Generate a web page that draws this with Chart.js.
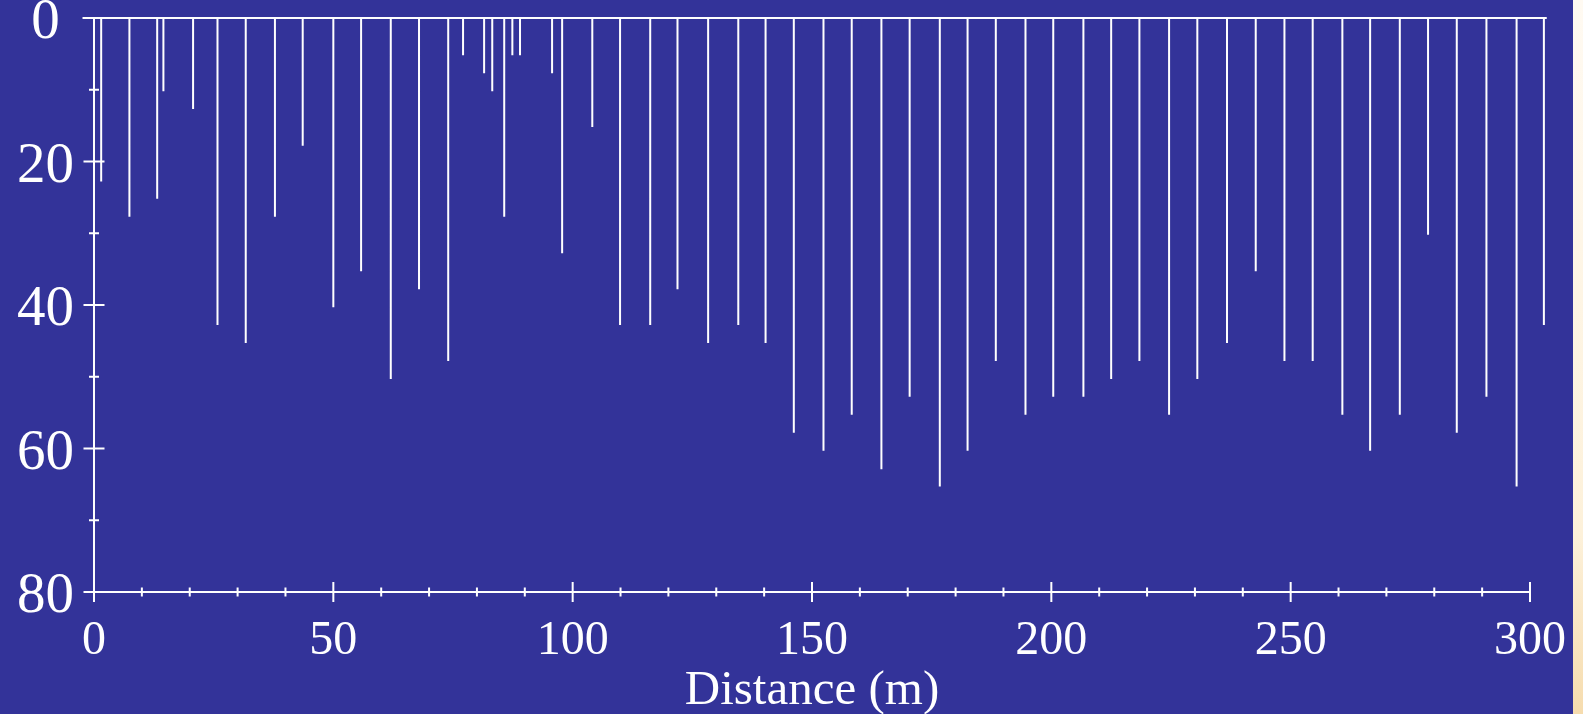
<!DOCTYPE html>
<html>
<head>
<meta charset="utf-8">
<script src="https://cdn.jsdelivr.net/npm/chart.js@4"></script>
<style>
html,body{margin:0;padding:0;background:#333399;overflow:hidden;width:1583px;height:714px;}
#strip{position:absolute;left:1573px;top:0;width:10px;height:714px;background:linear-gradient(#fffaf2,#fdf1da 75%,#f6dcae);}
canvas{position:absolute;left:0;top:0;}
</style>
</head>
<body>
<div id="strip"></div>
<canvas id="c" width="1583" height="714"></canvas>
<script>
// Distance along the profile (m)
const distances = [1.5, 7.4, 13.2, 14.5, 20.7, 25.8, 31.7, 37.8, 43.6, 50.0,
  55.8, 62.0, 67.9, 74.0, 77.1, 81.5, 83.2, 85.7, 87.4, 89.0,
  95.7, 97.8, 104.1, 109.9, 116.2, 121.9, 128.3, 134.6, 140.3, 146.2,
  152.4, 158.3, 164.5, 170.4, 176.7, 182.5, 188.4, 194.6, 200.4, 206.7,
  212.5, 218.4, 224.6, 230.5, 236.7, 242.7, 248.7, 254.6, 260.8, 266.6,
  272.8, 278.7, 284.7, 290.9, 297.2, 302.9];
// Depth of each sounding
const depths = [22.8, 27.7, 25.2, 10.2, 12.7, 42.8, 45.3, 27.7, 17.8, 40.3,
  35.3, 50.3, 37.8, 47.8, 5.2, 7.7, 10.2, 27.7, 5.2, 5.2,
  7.7, 32.8, 15.2, 42.8, 42.8, 37.8, 45.3, 42.8, 45.3, 57.8,
  60.3, 55.3, 62.9, 52.8, 65.3, 60.3, 47.8, 55.3, 52.8, 52.8,
  50.3, 47.8, 55.3, 50.3, 45.3, 35.3, 47.8, 47.8, 55.3, 60.3,
  55.3, 30.2, 57.8, 52.8, 65.3, 42.8];
const surfaceRange = [-2.4, 303.5];
const xTickLabels = ['0', '50', '100', '150', '200', '250', '300'];
const yTickLabels = ['0', '20', '40', '60', '80'];

// stems built in reverse order so every stem (including ones past 300) is drawn
const stems = [];
for (let i = distances.length - 1; i >= 0; i--) {
  stems.push({x: distances[i], y: 0}, {x: distances[i], y: depths[i]}, {x: distances[i], y: null});
}
const surface = surfaceRange.map(v => ({x: v, y: 0}));

const FONT = 'Liberation Serif, Times New Roman, serif';

const axisPlugin = {
  id: 'axesTicks',
  afterDatasetsDraw(chart) {
    const {ctx, chartArea: a, scales: {x, y}} = chart;
    ctx.save();
    ctx.strokeStyle = '#ffffff';
    ctx.lineWidth = 2;
    ctx.beginPath();
    ctx.moveTo(a.left, a.top); ctx.lineTo(a.left, a.bottom);
    ctx.moveTo(a.left, a.bottom); ctx.lineTo(a.right, a.bottom);
    y.ticks.forEach(t => {
      const py = y.getPixelForValue(t.value);
      const h = yTickLabels.includes(String(t.value)) ? 10.5 : 5;
      ctx.moveTo(a.left - h, py); ctx.lineTo(a.left + h, py);
    });
    x.ticks.forEach(t => {
      const px = x.getPixelForValue(t.value);
      const h = xTickLabels.includes(String(t.value)) ? 10 : 4.5;
      ctx.moveTo(px, a.bottom - h); ctx.lineTo(px, a.bottom + h);
    });
    ctx.stroke();
    ctx.restore();
  }
};

new Chart(document.getElementById('c'), {
  type: 'scatter',
  data: {
    datasets: [
      {data: surface, showLine: true, borderColor: '#ffffff', borderWidth: 2, pointRadius: 0, clip: false},
      {data: stems, showLine: true, spanGaps: false, borderColor: '#ffffff', borderWidth: 2, pointRadius: 0, clip: false}
    ]
  },
  options: {
    responsive: false,
    animation: false,
    layout: {padding: {top: 18, right: 53, bottom: 0, left: 0}},
    plugins: {legend: {display: false}, tooltip: {enabled: false}},
    scales: {
      x: {
        type: 'linear', position: 'bottom', min: 0, max: 300,
        grid: {display: false, drawTicks: false},
        border: {display: false},
        ticks: {
          stepSize: 10, autoSkip: false, maxRotation: 0, minRotation: 0,
          color: '#ffffff', padding: 21,
          font: {family: FONT, size: 48, lineHeight: 1.2},
          callback: v => xTickLabels.includes(String(v)) ? String(v) : ''
        },
        title: {display: true, text: 'Distance (m)', color: '#ffffff', padding: 0,
          font: {family: FONT, size: 49, lineHeight: 0.95}},
        afterFit(s) { s.height = 122; s.paddingLeft = 0; s.paddingRight = 0; }
      },
      y: {
        type: 'linear', reverse: true, min: 0, max: 80,
        grid: {display: false, drawTicks: false},
        border: {display: false},
        ticks: {
          stepSize: 10, autoSkip: false, crossAlign: 'center',
          color: '#ffffff', padding: 20,
          font: {family: FONT, size: 57, lineHeight: 0.18},
          callback: v => yTickLabels.includes(String(v)) ? ['', String(v)] : ''
        },
        afterFit(s) { s.width = 94; s.paddingTop = 0; s.paddingBottom = 0; }
      }
    }
  },
  plugins: [axisPlugin]
});
</script>
</body>
</html>
